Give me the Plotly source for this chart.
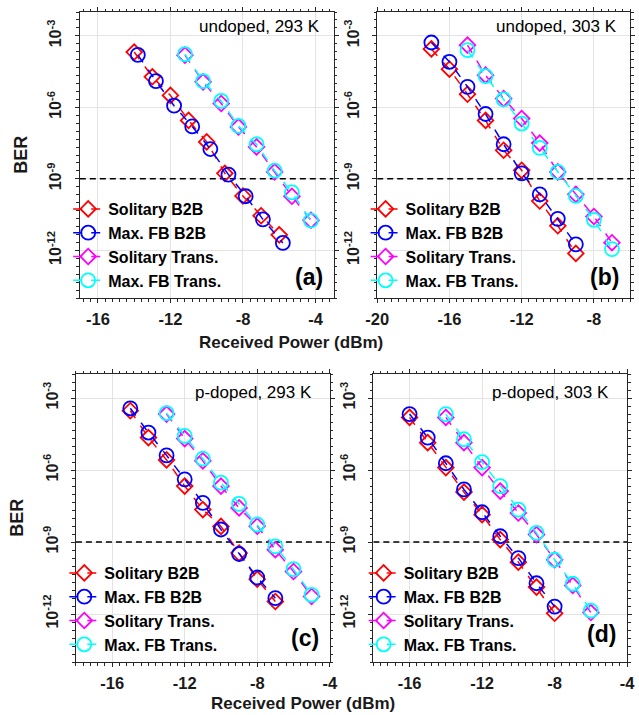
import plotly.graph_objects as go

# ---------------- data: BER vs received power (dBm) ----------------
series_names = ["Solitary B2B", "Max. FB B2B", "Solitary Trans.", "Max. FB Trans."]
series_colors = ["#ff0000", "#0000ff", "#ff00ff", "#00ffff"]
series_symbols = ["diamond-open", "circle-open", "diamond-open", "circle-open"]

# (a) undoped, 293 K
a_sol_b2b_x = [-14, -13, -12, -11, -10, -9, -8, -7, -6]
a_sol_b2b_ber = [2.09e-4, 1.91e-5, 3.16e-6, 2.82e-7, 3.55e-8, 1.70e-9, 1.91e-10, 2.82e-11, 4.47e-12]
a_fb_b2b_x = [-13.8, -12.8, -11.8, -10.8, -9.8, -8.8, -7.85, -6.9, -5.8]
a_fb_b2b_ber = [1.58e-4, 1.26e-5, 1.17e-6, 1.58e-7, 1.78e-8, 1.51e-9, 1.86e-10, 2.0e-11, 2.04e-12]
a_sol_tr_x = [-11.2, -10.2, -9.2, -8.25, -7.25, -6.25, -5.3, -4.25]
a_sol_tr_ber = [1.55e-4, 1.17e-5, 1.45e-6, 1.51e-7, 2.19e-8, 1.95e-9, 1.86e-10, 1.82e-11]
a_fb_tr_x = [-11.2, -10.2, -9.2, -8.25, -7.25, -6.25, -5.3, -4.25]
a_fb_tr_ber = [1.70e-4, 1.26e-5, 1.86e-6, 1.66e-7, 2.82e-8, 2.19e-9, 2.69e-10, 1.78e-11]

# (b) undoped, 303 K
b_sol_b2b_x = [-17, -16, -15, -14, -13, -12, -11, -10, -9]
b_sol_b2b_ber = [2.82e-4, 3.98e-5, 3.55e-6, 2.82e-7, 1.58e-8, 2.29e-9, 1.17e-10, 1.07e-11, 7.41e-13]
b_fb_b2b_x = [-17, -16, -15, -14, -13, -12, -11, -10, -9]
b_fb_b2b_ber = [5.25e-4, 8.13e-5, 7.24e-6, 5.25e-7, 2.82e-8, 1.70e-9, 2.24e-10, 2.09e-11, 1.78e-12]
b_sol_tr_x = [-15, -14, -13, -12, -11, -10, -9, -8, -7]
b_sol_tr_ber = [4.07e-4, 2.24e-5, 2.34e-6, 3.39e-7, 3.16e-8, 1.95e-9, 2.24e-10, 2.63e-11, 2.09e-12]
b_fb_tr_x = [-15, -14, -13, -12, -11, -10, -9, -8, -7]
b_fb_tr_ber = [2.51e-4, 2.04e-5, 2.14e-6, 2.09e-7, 2.0e-8, 1.95e-9, 1.91e-10, 1.91e-11, 1.12e-12]

# (c) p-doped, 293 K
c_sol_b2b_x = [-15, -14, -13, -12, -11, -10, -9, -8, -7]
c_sol_b2b_ber = [2.95e-4, 2.24e-5, 2.63e-6, 2.14e-7, 2.24e-8, 4.47e-9, 3.47e-10, 2.82e-11, 3.31e-12]
c_fb_b2b_x = [-15, -14, -13, -12, -11, -10, -9, -8, -7]
c_fb_b2b_ber = [3.72e-4, 3.63e-5, 4.07e-6, 4.07e-7, 4.27e-8, 3.31e-9, 3.16e-10, 3.31e-11, 4.57e-12]
c_sol_tr_x = [-13, -12, -11, -10, -9, -8, -7, -6, -5]
c_sol_tr_ber = [2.14e-4, 2.04e-5, 2.40e-6, 2.14e-7, 2.63e-8, 4.57e-9, 4.79e-10, 5.89e-11, 5.37e-12]
c_fb_tr_x = [-13, -12, -11, -10, -9, -8, -7, -6, -5]
c_fb_tr_ber = [2.34e-4, 2.63e-5, 2.95e-6, 2.95e-7, 3.89e-8, 5.37e-9, 6.61e-10, 7.41e-11, 6.31e-12]

# (d) p-doped, 303 K
d_sol_b2b_x = [-16, -15, -14, -13, -12, -11, -10, -9, -8]
d_sol_b2b_ber = [1.55e-4, 1.38e-5, 1.26e-6, 1.20e-7, 1.38e-8, 1.26e-9, 1.45e-10, 1.32e-11, 1.07e-12]
d_fb_b2b_x = [-16, -15, -14, -13, -12, -11, -10, -9, -8]
d_fb_b2b_ber = [2.14e-4, 2.24e-5, 1.91e-6, 1.55e-7, 1.74e-8, 1.74e-9, 2.14e-10, 1.91e-11, 2.04e-12]
d_sol_tr_x = [-14, -13, -12, -11, -10, -9, -8, -7, -6]
d_sol_tr_ber = [1.55e-4, 1.38e-5, 1.26e-6, 1.32e-7, 1.62e-8, 2.04e-9, 1.82e-10, 1.55e-11, 1.15e-12]
d_fb_tr_x = [-14, -13, -12, -11, -10, -9, -8, -7, -6]
d_fb_tr_ber = [2.14e-4, 1.91e-5, 2.14e-6, 2.14e-7, 2.24e-8, 2.40e-9, 1.82e-10, 1.82e-11, 1.38e-12]

panel_titles = ["undoped, 293 K", "undoped, 303 K", "p-doped, 293 K", "p-doped, 303 K"]
panel_tags = ["(a)", "(b)", "(c)", "(d)"]
x_ranges = [[-17, -3], [-20, -6], [-18, -4], [-18, -4]]
x_tickvals = [[-16, -12, -8, -4], [-20, -16, -12, -8], [-16, -12, -8, -4], [-16, -12, -8, -4]]
y_tickvals = [1e-3, 1e-6, 1e-9, 1e-12]
y_ticktext = ["10<sup>-3</sup>", "10<sup>-6</sup>", "10<sup>-9</sup>", "10<sup>-12</sup>"]
ber_threshold = 1e-9

panels = [
    [(a_sol_b2b_x, a_sol_b2b_ber), (a_fb_b2b_x, a_fb_b2b_ber), (a_sol_tr_x, a_sol_tr_ber), (a_fb_tr_x, a_fb_tr_ber)],
    [(b_sol_b2b_x, b_sol_b2b_ber), (b_fb_b2b_x, b_fb_b2b_ber), (b_sol_tr_x, b_sol_tr_ber), (b_fb_tr_x, b_fb_tr_ber)],
    [(c_sol_b2b_x, c_sol_b2b_ber), (c_fb_b2b_x, c_fb_b2b_ber), (c_sol_tr_x, c_sol_tr_ber), (c_fb_tr_x, c_fb_tr_ber)],
    [(d_sol_b2b_x, d_sol_b2b_ber), (d_fb_b2b_x, d_fb_b2b_ber), (d_sol_tr_x, d_sol_tr_ber), (d_fb_tr_x, d_fb_tr_ber)],
]

# ---------------- layout geometry (pixels of a 639 x 715 canvas) ----------------
W, H = 639, 715
FONT = "Liberation Sans, Arial, sans-serif"
AXC = "#262626"
GRID = "#e3e3e3"

# plot boxes: left, right, top, bottom
boxes = [(70, 332, 12, 298), (377, 638, 12, 298), (66, 328, 374, 662), (373, 635, 374, 662)]
legend_pos = [(58, 192), (365, 192), (54, 556), (363, 556)]
title_pos = [(320, 27), (627, 27), (312, 392), (618, 392)]
tag_pos = [(323, 277), (629, 277), (319, 638), (626, 634)]


def fx(px):
    return px / W


def fy(py):
    return 1 - py / H


fig = go.Figure()

for i, series in enumerate(panels):
    n = "" if i == 0 else str(i + 1)
    xa, ya = "x" + n, "y" + n
    leg = "legend" + n
    # BER = 1e-9 reference line across the panel
    fig.add_trace(go.Scatter(
        x=x_ranges[i], y=[ber_threshold, ber_threshold], mode="lines",
        line=dict(color="black", width=1.5, dash="6px,4px"),
        xaxis=xa, yaxis=ya, showlegend=False, hoverinfo="skip"))
    for k, (xs, ys) in enumerate(series):
        fig.add_trace(go.Scatter(
            x=xs, y=ys, mode="lines+markers", name=series_names[k],
            line=dict(color=series_colors[k], width=1.5, dash="dash"),
            marker=dict(symbol=series_symbols[k], size=14 if "circle" in series_symbols[k] else 12,
                        color=series_colors[k], line=dict(width=1.8, color=series_colors[k])),
            xaxis=xa, yaxis=ya, legend=leg))

    l, r, t, b = boxes[i]
    fig.layout["xaxis" + n] = dict(
        domain=[fx(l), fx(r)], anchor=ya, range=x_ranges[i],
        tickmode="array", tickvals=x_tickvals[i], ticktext=[str(v) for v in x_tickvals[i]],
        showgrid=True, gridcolor=GRID, gridwidth=1, zeroline=False,
        showline=True, linecolor=AXC, linewidth=1, mirror="allticks",
        ticks="outside", ticklen=4, tickcolor=AXC, ticklabelstandoff=2,
        minor=dict(ticks="outside", ticklen=2.5, tickcolor=AXC, dtick=0.4, tick0=0, showgrid=False),
        tickfont=dict(family=FONT, size=16.5, color="#1a1a1a", weight="bold"))
    fig.layout["yaxis" + n] = dict(
        domain=[fy(b), fy(t)], anchor=xa, type="log", range=[-14, -2],
        tickmode="array", tickvals=y_tickvals, ticktext=y_ticktext, tickangle=-90,
        showgrid=True, gridcolor=GRID, gridwidth=1, zeroline=False,
        showline=True, linecolor=AXC, linewidth=1, mirror="allticks",
        ticks="outside", ticklen=4, tickcolor=AXC, ticklabelstandoff=7,
        minor=dict(ticks="outside", ticklen=2.5, tickcolor=AXC, dtick=1 / 3, tick0=0, showgrid=False),
        tickfont=dict(family=FONT, size=16, color="#1a1a1a", weight="bold"))
    lx, ly = legend_pos[i]
    fig.layout[leg] = dict(
        x=fx(lx), y=fy(ly), xanchor="left", yanchor="top", bgcolor="rgba(0,0,0,0)",
        font=dict(family=FONT, size=16, color="black", weight="bold"),
        tracegroupgap=0, itemclick=False, itemdoubleclick=False)

    tx, ty = title_pos[i]
    fig.add_annotation(x=fx(tx), y=fy(ty), xref="paper", yref="paper", text=panel_titles[i],
                       showarrow=False, xanchor="right", yanchor="middle",
                       font=dict(family=FONT, size=17, color="black"))
    gx, gy = tag_pos[i]
    fig.add_annotation(x=fx(gx), y=fy(gy), xref="paper", yref="paper", text=panel_tags[i],
                       showarrow=False, xanchor="right", yanchor="middle",
                       font=dict(family=FONT, size=23, color="black", weight="bold"))

# shared axis titles
for (x, y) in [(288, 342), (300, 703)]:
    fig.add_annotation(x=fx(x), y=fy(y), xref="paper", yref="paper", text="Received Power (dBm)",
                       showarrow=False, xanchor="center", yanchor="middle",
                       font=dict(family=FONT, size=17, color="#1a1a1a", weight="bold"))
for (x, y) in [(9, 155), (5, 518)]:
    fig.add_annotation(x=fx(x), y=fy(y), xref="paper", yref="paper", text="BER", textangle=-90,
                       showarrow=False, xanchor="center", yanchor="middle",
                       font=dict(family=FONT, size=18, color="#1a1a1a", weight="bold"))

fig.update_layout(width=W, height=H, margin=dict(l=0, r=0, t=0, b=0),
                  paper_bgcolor="white", plot_bgcolor="white", showlegend=True)

fig.write_html("out.html")
